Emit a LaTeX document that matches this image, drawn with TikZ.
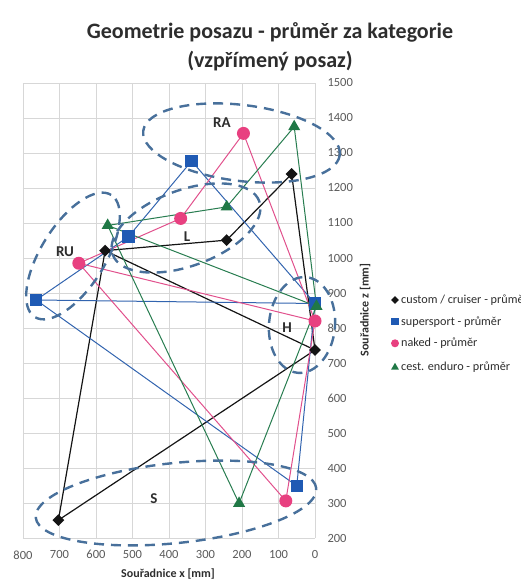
\documentclass[tikz,border=0pt]{standalone}
\usepackage{fontspec}
\setmainfont{Carlito}
\usetikzlibrary{shapes.geometric}

\definecolor{cruiserblack}{RGB}{20,20,20}
\definecolor{sportblue}{RGB}{31,90,180}
\definecolor{nakedpink}{RGB}{232,64,128}
\definecolor{endurogreen}{RGB}{32,120,70}
\definecolor{sportline}{RGB}{50,100,175}
\definecolor{nakedline}{RGB}{225,80,140}
\definecolor{enduroline}{RGB}{40,125,80}
\definecolor{zoneblue}{RGB}{72,112,155}
\definecolor{gridgrey}{RGB}{215,215,215}
\definecolor{tickgrey}{RGB}{90,90,90}
\definecolor{labelgrey}{RGB}{45,45,45}

\tikzset{
  gridline/.style={draw=gridgrey, line width=0.7pt},
  cruiser/.style={diamond, fill=cruiserblack, minimum size=12pt, inner sep=0pt},
  sport/.style={rectangle, fill=sportblue, minimum size=12.5pt, inner sep=0pt},
  naked/.style={circle, fill=nakedpink, minimum size=13pt, inner sep=0pt},
  enduro/.style={regular polygon, regular polygon sides=3, fill=endurogreen, minimum size=14pt, inner sep=0pt},
  zone/.style={draw=zoneblue, line width=2.4pt, dash pattern=on 10pt off 7pt},
  zonelabel/.style={font=\bfseries\fontsize{15}{15}\selectfont, text=labelgrey},
  ticklabel/.style={font=\fontsize{12.5}{12.5}\selectfont, text=tickgrey},
  axistitle/.style={font=\bfseries\fontsize{12}{12}\selectfont, text=labelgrey},
  legendtext/.style={font=\fontsize{12.2}{12.2}\selectfont, text=labelgrey, anchor=west, inner sep=0pt},
}

\begin{document}
\begin{tikzpicture}[x=1pt,y=1pt]
  \useasboundingbox (0,0) rectangle (520,588);

  % title
  \node[font=\bfseries\fontsize{22}{29}\selectfont, text=labelgrey, align=center] (title) at (270,541)
    {Geometrie posazu - průměr za kategorie\\(vzpřímený posaz)};

  % plot area, x and z in mm
  \begin{scope}[shift={(315pt,-20pt)}, x={(-0.365pt,0pt)}, y={(0pt,0.35pt)}]
    \foreach \gx in {0,100,...,800}
      \draw[gridline] (\gx,200) -- (\gx,1500);
    \foreach \gz in {200,300,...,1500}
      \draw[gridline] (800,\gz) -- (0,\gz);
    \foreach \gz in {200,300,...,1500}
      \node[ticklabel, anchor=west, xshift=9pt] (zt\gz) at (0,\gz) {\gz};
    \foreach \gx in {0,100,...,800}
      \node[ticklabel, anchor=north, yshift=-9pt] (xt\gx) at (\gx,200) {\gx};

    % custom / cruiser
    \coordinate (cruRA) at (64,1240);
    \coordinate (cruL) at (242,1051);
    \coordinate (cruRU) at (575,1021);
    \coordinate (cruH) at (0,737);
    \coordinate (cruS) at (703,251);
    % supersport
    \coordinate (supRA) at (338,1277);
    \coordinate (supL) at (511,1061);
    \coordinate (supRU) at (764,880);
    \coordinate (supH) at (0,870);
    \coordinate (supS) at (50,349);
    % naked
    \coordinate (nakRA) at (196,1356);
    \coordinate (nakL) at (368,1113);
    \coordinate (nakRU) at (647,985);
    \coordinate (nakH) at (0,820);
    \coordinate (nakS) at (80,306);
    % cest. enduro
    \coordinate (endRA) at (57,1375);
    \coordinate (endL) at (242,1146);
    \coordinate (endRU) at (568,1093);
    \coordinate (endH) at (-4,862);
    \coordinate (endS) at (208,299);

    \draw[cruiserblack, line width=1.2pt] (cruL) -- (cruRA) -- (cruH) -- (cruS) -- (cruRU) -- (cruL);
    \draw[cruiserblack, line width=1.2pt] (cruRU) -- (cruH);
    \draw[sportline, line width=1pt] (supL) -- (supRA) -- (supH) -- (supS) -- (supRU) -- (supL);
    \draw[sportline, line width=1pt] (supRU) -- (supH);
    \draw[nakedline, line width=1pt] (nakL) -- (nakRA) -- (nakH) -- (nakS) -- (nakRU) -- (nakL);
    \draw[nakedline, line width=1pt] (nakRU) -- (nakH);
    \draw[enduroline, line width=1pt] (endL) -- (endRA) -- (endH) -- (endS) -- (endRU) -- (endL);
    \draw[enduroline, line width=1pt] (endRU) -- (endH);

    \node[cruiser] (cruRAm) at (cruRA) {};
    \node[cruiser] (cruLm) at (cruL) {};
    \node[cruiser] (cruRUm) at (cruRU) {};
    \node[cruiser] (cruHm) at (cruH) {};
    \node[cruiser] (cruSm) at (cruS) {};
    \node[sport] (supRAm) at (supRA) {};
    \node[sport] (supLm) at (supL) {};
    \node[sport] (supRUm) at (supRU) {};
    \node[sport] (supHm) at (supH) {};
    \node[sport] (supSm) at (supS) {};
    \node[naked] (nakRAm) at (nakRA) {};
    \node[naked] (nakLm) at (nakL) {};
    \node[naked] (nakRUm) at (nakRU) {};
    \node[naked] (nakHm) at (nakH) {};
    \node[naked] (nakSm) at (nakS) {};
    \node[enduro] (endRAm) at (endRA) {};
    \node[enduro] (endLm) at (endL) {};
    \node[enduro] (endRUm) at (endRU) {};
    \node[enduro] (endHm) at (endH) {};
    \node[enduro] (endSm) at (endS) {};
  \end{scope}

  % axis titles
  \node[axistitle] (xtitle) at (168,14) {Souřadnice x [mm]};
  \node[axistitle, rotate=90] (ztitle) at (365,278) {Souřadnice z [mm]};

  % zones
  \draw[zone, rotate around={-7:(241.5,445)}] (241.5,445) ellipse [x radius=99, y radius=38];
  \draw[zone, rotate around={20:(186,360)}] (186,360) ellipse [x radius=78, y radius=38];
  \draw[zone, rotate around={58:(73,332)}] (73,332) ellipse [x radius=72, y radius=32];
  \draw[zone, rotate around={-5:(302,263)}] (302,263) ellipse [x radius=33, y radius=48];
  \draw[zone, rotate around={6:(176,85)}] (176,85) ellipse [x radius=141, y radius=40];
  \node[zonelabel] (zRA) at (222,465) {RA};
  \node[zonelabel] (zL) at (187,351) {L};
  \node[zonelabel] (zRU) at (65,336) {RU};
  \node[zonelabel] (zH) at (287,260) {H};
  \node[zonelabel] (zS) at (154,89) {S};

  % legend
  \node[cruiser, minimum size=8pt] (legcru) at (395,288) {};
  \node[legendtext] (legcrutext) at (401,288) {custom / cruiser - průměr};
  \node[sport, minimum size=7.5pt] (legsup) at (395,266.3) {};
  \node[legendtext] (legsuptext) at (401,266.3) {supersport - průměr};
  \node[naked, minimum size=8pt] (legnak) at (395,244.7) {};
  \node[legendtext] (legnaktext) at (401,244.7) {naked - průměr};
  \node[enduro, minimum size=9pt] (legend) at (395,220.7) {};
  \node[legendtext] (legendtext) at (401,220.7) {cest. enduro - průměr};
\end{tikzpicture}
\end{document}
